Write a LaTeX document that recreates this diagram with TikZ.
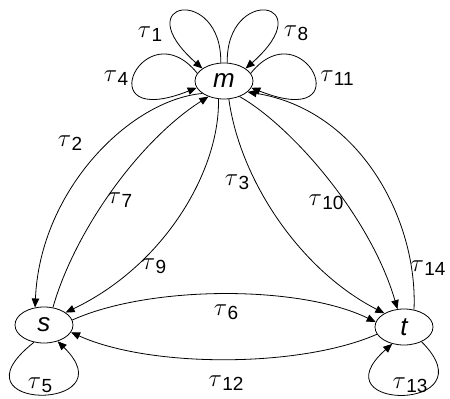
\documentclass[tikz,border=0pt]{standalone}
\usepackage{fontspec}
\setmainfont{Liberation Sans}
\usetikzlibrary{shapes.geometric,arrows.meta}
\newcommand\taulab[1]{{\fontsize{23}{25}\selectfont$\tau$}\kern0.3pt\raisebox{-4pt}{#1}}
\begin{document}
\begin{tikzpicture}[x=1pt,y=-1pt,
  state/.style={ellipse,draw,line width=0.8pt,minimum width=58pt,minimum height=36pt,inner sep=0pt,
    font=\fontsize{26}{28}\selectfont\itshape},
  lab/.style={inner sep=0pt,font=\fontsize{19}{21}\selectfont},
  arc/.style={line width=0.8pt,-{Triangle[length=9pt,width=7.5pt]}},
  plain/.style={line width=0.8pt}]
\useasboundingbox (0,0) rectangle (450,399);
\node[state] (m) at (224,81) {m};
\node[state] (s) at (44,325) {s};
\node[state] (t) at (404,327) {t};
% loops at m
\draw[arc] (m.100) .. controls (222,-15) and (125,0) .. (m.150);
\draw[arc] (m.80) .. controls (226,-15) and (323,0) .. (m.30);
\draw[arc] (m.164) .. controls (145,8) and (85,132) .. (m.194);
\draw[arc] (m.16) .. controls (303,8) and (363,132) .. (m.346);
% m <-> s
\draw[arc] (m.210) .. controls (130,100) and (40,190) .. (s.117);
\draw[arc] (s.63) .. controls (75,230) and (140,140) .. (m.225);
\draw[arc] (m.253) .. controls (220,170) and (165,265) .. (s.30);
% m <-> t
\draw[arc] (m.285) .. controls (240,180) and (300,270) .. (t.145);
\draw[arc] (m.315) .. controls (290,125) and (370,215) .. (t.110);
\draw[arc] (t.60) .. controls (418,220) and (360,110) .. (m.335);
% s <-> t
\draw[arc] (s.10) .. controls (150,285) and (300,285) .. (t.170);
\draw[arc] (t.195) .. controls (300,368) and (150,368) .. (s.345);
% loops at s, t
\draw[arc] (s.240) .. controls (-55,412) and (130,412) .. (s.310);
\draw[arc] (t.320) .. controls (492,412) and (315,412) .. (t.235);
% labels
\node[lab] (l1) at (150,34) {\taulab{1}};
\node[lab] (l8) at (296,33) {\taulab{8}};
\node[lab] (l4) at (116,78) {\taulab{4}};
\node[lab] (l11) at (337,78) {\taulab{11}};
\node[lab] (l2) at (70,143) {\taulab{2}};
\node[lab] (l7) at (120,200) {\taulab{7}};
\node[lab] (l3) at (237,182) {\taulab{3}};
\node[lab] (l10) at (326,202) {\taulab{10}};
\node[lab] (l9) at (154,266) {\taulab{9}};
\node[lab] (l14) at (428,268) {\taulab{14}};
\node[lab] (l6) at (226,312) {\taulab{6}};
\node[lab] (l12) at (226,383) {\taulab{12}};
\node[lab] (l5) at (40,385) {\taulab{5}};
\node[lab] (l13) at (410,385) {\taulab{13}};
\end{tikzpicture}
\end{document}
